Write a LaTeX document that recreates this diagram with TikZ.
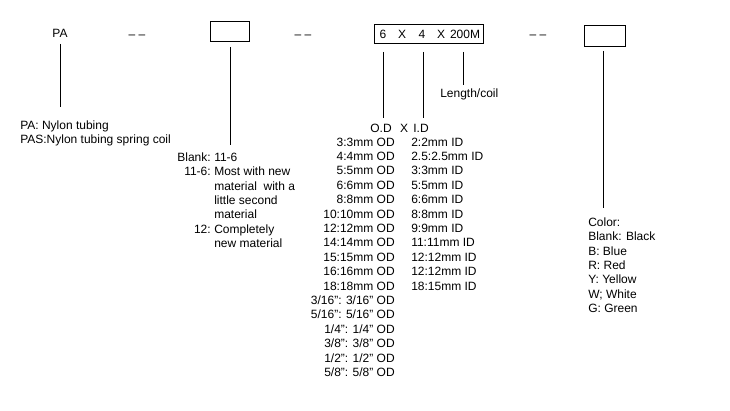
\documentclass[tikz,border=0pt]{standalone}
\usepackage{fontspec}
\setmainfont{Liberation Sans}
\begin{document}
\begin{tikzpicture}[x=0.75pt,y=-0.75pt,
  lbl/.style={inner sep=0pt,font=\fontsize{9}{10.8}\selectfont},
  codebox/.style={draw,line width=0.65pt,inner sep=0pt},
  conn/.style={line width=0.65pt}]
\useasboundingbox[fill=white] (0,0) rectangle (730,410);

% top code row
\node[lbl,anchor=base] (pa) at (60,38) {PA};
\node[lbl,anchor=base] (d1) at (137,38.5) {– –};
\node[codebox,minimum width=29.25pt,minimum height=15pt] (b1) at (229.5,31) {};
\node[lbl,anchor=base] (d2) at (303,38.5) {– –};
\node[codebox,minimum width=81.75pt,minimum height=14.25pt] (b2) at (429,34) {};
\node[lbl,anchor=base] (s6) at (383,38.5) {6};
\node[lbl,anchor=base] (x1) at (402,38.5) {X};
\node[lbl,anchor=base] (s4) at (422,38.5) {4};
\node[lbl,anchor=base] (x2) at (441,38.5) {X};
\node[lbl,anchor=base] (len) at (465,38.5) {200M};
\node[lbl,anchor=base] (d3) at (538,38.5) {– –};
\node[codebox,minimum width=30.75pt,minimum height=15.75pt] (b3) at (604.5,35.5) {};

% connector end points
\coordinate (pa1) at (60,44);   \coordinate (pa2) at (60,107);
\coordinate (q1) at (230,47);   \coordinate (q2) at (230,145);
\coordinate (od1) at (383,52);  \coordinate (od2) at (383,118);
\coordinate (id1) at (423,52);  \coordinate (id2) at (423,118);
\coordinate (ln1) at (463,52);  \coordinate (ln2) at (463,85);
\coordinate (c1) at (603,51);   \coordinate (c2) at (603,208);
\draw[conn] (pa1) -- (pa2);
\draw[conn] (q1) -- (q2);
\draw[conn] (od1) -- (od2);
\draw[conn] (id1) -- (id2);
\draw[conn] (ln1) -- (ln2);
\draw[conn] (c1) -- (c2);

% PA description
\node[lbl,anchor=base west] (pad1) at (20,129.5) {PA: Nylon tubing};
\node[lbl,anchor=base west] (pad2) at (20,143.8) {PAS:Nylon tubing spring coil};

% quality block
\node[lbl,anchor=base east] (ql0) at (211,161.5) {Blank:};
\node[lbl,anchor=base west] (qt0) at (214,161.5) {11-6};
\node[lbl,anchor=base east] (ql1) at (211,175.8) {11-6:};
\node[lbl,anchor=base west] (qt1) at (214,175.8) {Most with new};
\node[lbl,anchor=base west] (qt2) at (214,190.1) {material\ \ with a};
\node[lbl,anchor=base west] (qt3) at (214,204.4) {little second};
\node[lbl,anchor=base west] (qt4) at (214,218.7) {material};
\node[lbl,anchor=base east] (ql5) at (211,233) {12:};
\node[lbl,anchor=base west] (qt5) at (214,233) {Completely};
\node[lbl,anchor=base west] (qt6) at (214,247.3) {new material};

% length
\node[lbl,anchor=base west] (lc) at (440,97) {Length/coil};

% OD x ID
\node[lbl,anchor=base] (odh) at (381,132) {O.D};
\node[lbl,anchor=base] (xh) at (404,132) {X};
\node[lbl,anchor=base] (idh) at (421,132) {I.D};
\foreach \t [count=\i] in {3:3mm OD,4:4mm OD,5:5mm OD,6:6mm OD,8:8mm OD,10:10mm OD,12:12mm OD,14:14mm OD,15:15mm OD,16:16mm OD,18:18mm OD,3/16”: 3/16” OD,5/16”: 5/16” OD,1/4”: 1/4” OD,3/8”: 3/8” OD,1/2”: 1/2” OD,5/8”: 5/8” OD}
  \node[lbl,anchor=base east] (od\i) at (395,{146+(\i-1)*14.4}) {\t};
\foreach \t [count=\i] in {2:2mm ID,2.5:2.5mm ID,3:3mm ID,5:5mm ID,6:6mm ID,8:8mm ID,9:9mm ID,11:11mm ID,12:12mm ID,12:12mm ID,18:15mm ID}
  \node[lbl,anchor=base west] (id\i) at (411,{146+(\i-1)*14.4}) {\t};

% colour block
\foreach \t [count=\i] in {Color:,Blank: Black,B: Blue,R: Red,Y: Yellow,W; White,G: Green}
  \node[lbl,anchor=base west] (col\i) at (588,{226.5+(\i-1)*14.3}) {\t};
\end{tikzpicture}
\end{document}
